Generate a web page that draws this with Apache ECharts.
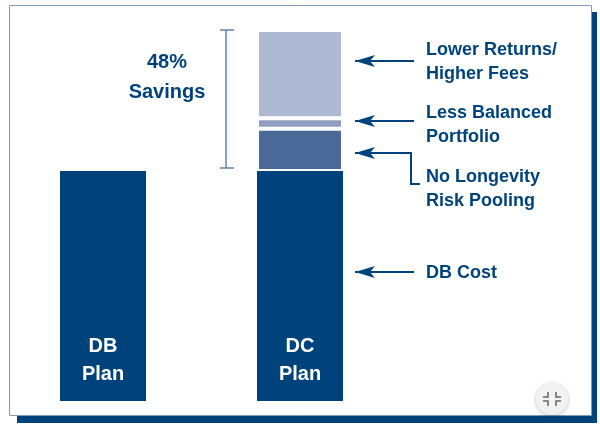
<!DOCTYPE html>
<html>
<head>
<meta charset="utf-8">
<script src="https://cdn.jsdelivr.net/npm/echarts@6/dist/echarts.min.js"></script>
<style>
  html, body { margin: 0; padding: 0; background: #fff; }
  #main { width: 600px; height: 427px; }
</style>
</head>
<body>
<div id="main"></div>
<script>
const NAVY = "#00437c";
const FONT = '"Liberation Sans", Arial, sans-serif';

// cost index, DB plan = 100
const plans = ["DB\nPlan", "DC\nPlan"];
const layers = [
  { name: "DB Cost", color: NAVY, values: [100, 100] },
  { name: "No Longevity Risk Pooling", color: "#4a6998", values: [null, 18.3] },
  { name: "Less Balanced Portfolio", color: "#8f9fc2", values: [null, 4.6] },
  { name: "Lower Returns/Higher Fees", color: "#aeb9d3", values: [null, 38.4] }
];

const chart = echarts.init(document.getElementById("main"));

function note(text, x, y) {
  return {
    type: "text", x, y, z: 10,
    style: { text, fill: NAVY, font: "bold 18px " + FONT, lineHeight: 24, textVerticalAlign: "middle" }
  };
}

function arrow(points) {
  const tip = points[0];
  return [
    {
      type: "polyline", z: 10,
      shape: { points },
      style: { stroke: NAVY, lineWidth: 2, fill: null }
    },
    {
      type: "polygon", z: 11,
      shape: { points: [[tip[0], tip[1]], [tip[0] + 20, tip[1] - 6], [tip[0] + 15, tip[1]], [tip[0] + 20, tip[1] + 6]] },
      style: { fill: NAVY }
    }
  ];
}

const option = {
  animation: false,
  backgroundColor: "#fff",
  grid: { left: 4.5, width: 394, top: 29, height: 372 },
  xAxis: {
    type: "category",
    data: plans,
    show: false
  },
  yAxis: { type: "value", min: 0, max: 161.7, show: false },
  graphic: [
    // card and its drop shadow
    { type: "rect", z: -2, shape: { x: 17, y: 12, width: 580, height: 411 }, style: { fill: NAVY } },
    { type: "rect", z: -1, shape: { x: 9.5, y: 5.5, width: 582, height: 410 }, style: { fill: "#fff", stroke: "#7d9cbd", lineWidth: 1 } },

    // savings bracket
    { type: "line", z: 10, shape: { x1: 226, y1: 30, x2: 226, y2: 168 }, style: { stroke: "#5c86ad", lineWidth: 1.5 } },
    { type: "line", z: 10, shape: { x1: 220, y1: 30, x2: 234, y2: 30 }, style: { stroke: "#5c86ad", lineWidth: 1.5 } },
    { type: "line", z: 10, shape: { x1: 220, y1: 168, x2: 234, y2: 168 }, style: { stroke: "#5c86ad", lineWidth: 1.5 } },
    {
      type: "text", x: 167, y: 77, z: 10,
      style: { text: "48%\nSavings", fill: NAVY, font: "bold 20px " + FONT, lineHeight: 30, align: "center", verticalAlign: "middle" }
    },

    ...arrow([[355, 61], [414, 61]]),
    ...arrow([[355, 121], [414, 121]]),
    ...arrow([[355, 153], [411, 153], [411, 184], [420, 184]]),
    ...arrow([[355, 272], [414, 272]]),

    note("Lower Returns/\nHigher Fees", 426, 62),
    note("Less Balanced\nPortfolio", 426, 125),
    note("No Longevity\nRisk Pooling", 426, 189),
    note("DB Cost", 426, 273),

    // viewer's collapse button, bottom right
    {
      type: "circle", z: 20,
      shape: { cx: 552, cy: 399, r: 16 },
      style: { fill: "#f2f2f2", shadowBlur: 4, shadowColor: "rgba(0,0,0,0.25)", shadowOffsetY: 1 }
    },
    {
      type: "polyline", z: 21, shape: { points: [[548, 392], [548, 397], [543, 397]] },
      style: { stroke: "#666", lineWidth: 1.5, fill: null }
    },
    {
      type: "polyline", z: 21, shape: { points: [[556, 392], [556, 397], [561, 397]] },
      style: { stroke: "#666", lineWidth: 1.5, fill: null }
    },
    {
      type: "polyline", z: 21, shape: { points: [[548, 406], [548, 401], [543, 401]] },
      style: { stroke: "#666", lineWidth: 1.5, fill: null }
    },
    {
      type: "polyline", z: 21, shape: { points: [[556, 406], [556, 401], [561, 401]] },
      style: { stroke: "#666", lineWidth: 1.5, fill: null }
    }
  ],
  series: layers.map((layer, i) => ({
    name: layer.name,
    type: "bar",
    stack: "cost",
    barWidth: 86,
    data: layer.values,
    itemStyle: { color: layer.color, borderColor: "#fff", borderWidth: i === 0 ? 0 : 2 },
    label: i === 0 ? {
      show: true,
      position: "insideBottom",
      distance: 13,
      formatter: p => p.name,
      color: "#fff",
      fontFamily: FONT,
      fontWeight: "bold",
      fontSize: 20,
      lineHeight: 28
    } : { show: false }
  }))
};

chart.setOption(option);
</script>
</body>
</html>
